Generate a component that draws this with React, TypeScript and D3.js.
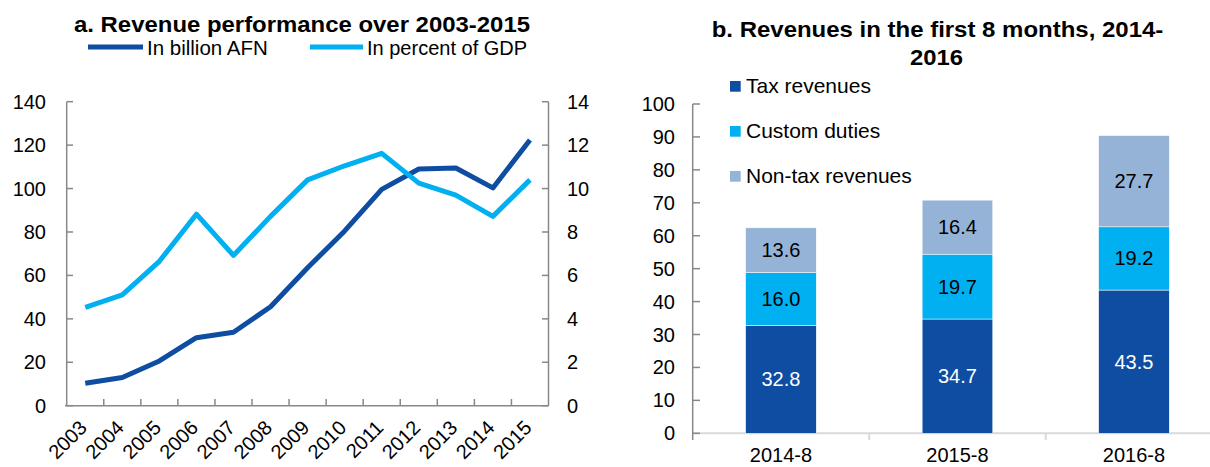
import React from "react";
import * as d3 from "d3";

const years = ["2003","2004","2005","2006","2007","2008","2009","2010","2011","2012","2013","2014","2015"];
const billionAFN = [10.3, 13.0, 20.6, 31.3, 33.8, 45.6, 63.5, 80.5, 99.6, 109.0, 109.5, 100.3, 122.4];
const pctGDP = [4.53, 5.1, 6.65, 8.82, 6.92, 8.72, 10.4, 11.05, 11.62, 10.25, 9.7, 8.72, 10.4];
const leftTicks = [0, 20, 40, 60, 80, 100, 120, 140];
const rightTicks = [0, 2, 4, 6, 8, 10, 12, 14];

const periods = ["2014-8", "2015-8", "2016-8"];
const taxRevenues = [32.8, 34.7, 43.5];
const customDuties = [16.0, 19.7, 19.2];
const nonTaxRevenues = [13.6, 16.4, 27.7];
const barTicks = [0, 10, 20, 30, 40, 50, 60, 70, 80, 90, 100];

const DARK = "#0E4DA1";
const LIGHT = "#00B0F0";
const PALE = "#95B3D7";
const FONT = "'Liberation Sans', Arial, sans-serif";

export default function App() {
  // Left chart
  const x1 = d3.scaleBand<string>().domain(years).range([66.7, 548.5]);
  const y1 = d3.scaleLinear().domain([0, 140]).range([405.7, 101.7]);
  const y1r = d3.scaleLinear().domain([0, 14]).range([405.7, 101.7]);
  const cx = (i: number) => (x1(years[i]) as number) + x1.bandwidth() / 2;
  const lineA = d3.line<number>().x((_, i) => cx(i)).y((d) => y1(d));
  const lineB = d3.line<number>().x((_, i) => cx(i)).y((d) => y1r(d));

  // Right chart
  const x2 = d3.scaleBand<string>().domain(periods).range([692.7, 1222.2]).paddingInner(0.6).paddingOuter(0.3);
  const y2 = d3.scaleLinear().domain([0, 100]).range([433.3, 104]);
  const series = [
    { name: "Tax revenues", values: taxRevenues, color: DARK, text: "#fff" },
    { name: "Custom duties", values: customDuties, color: LIGHT, text: "#000" },
    { name: "Non-tax revenues", values: nonTaxRevenues, color: PALE, text: "#000" },
  ];
  const stackData = periods.map((p, i) => ({ p, tax: taxRevenues[i], cus: customDuties[i], non: nonTaxRevenues[i] }));
  const stack = d3.stack<any>().keys(["tax", "cus", "non"])(stackData);
  const bandStep = 176.5;

  return (
    <svg width={1210} height={467} style={{ position: "absolute", left: 0, top: 0, background: "#fff" }} fontFamily={FONT}>
      <rect width={1210} height={467} fill="#fff" />
      {/* Left title */}
      <text x={74} y={32} fontSize={21.5} fontWeight="bold" textLength={456} lengthAdjust="spacingAndGlyphs">a. Revenue performance over 2003-2015</text>
      {/* Left legend */}
      <line x1={88} x2={143} y1={47} y2={47} stroke={DARK} strokeWidth={5} />
      <text x={147} y={55} fontSize={20.5}>In billion AFN</text>
      <line x1={310} x2={363} y1={47} y2={47} stroke={LIGHT} strokeWidth={5} />
      <text x={367} y={55} fontSize={20}>In percent of GDP</text>

      {/* Left axes */}
      <line x1={66.7} x2={66.7} y1={101.7} y2={405.7} stroke="#888" strokeWidth={1.5} />
      <line x1={548.5} x2={548.5} y1={101.7} y2={405.7} stroke="#888" strokeWidth={1.5} />
      <line x1={65} x2={548.5} y1={405.7} y2={405.7} stroke="#888" strokeWidth={1.5} />
      {leftTicks.map((t) => (
        <g key={"l" + t}>
          <line x1={66.7} x2={73} y1={y1(t)} y2={y1(t)} stroke="#888" strokeWidth={1.5} />
          <text x={46} y={y1(t)} dy="0.35em" textAnchor="end" fontSize={20}>{t}</text>
        </g>
      ))}
      {rightTicks.map((t) => (
        <g key={"r" + t}>
          <line x1={542} x2={548.5} y1={y1r(t)} y2={y1r(t)} stroke="#888" strokeWidth={1.5} />
          <text x={567} y={y1r(t)} dy="0.35em" textAnchor="start" fontSize={20}>{t}</text>
        </g>
      ))}
      {years.map((yr, i) => (
        <g key={yr}>
          {i > 0 && <line x1={x1(yr) as number} x2={x1(yr) as number} y1={405.7} y2={399} stroke="#888" strokeWidth={1.5} />}
          <text transform={`translate(${cx(i) - 7},${419}) rotate(-45)`} textAnchor="end" dy="0.7em" fontSize={20}>{yr}</text>
        </g>
      ))}
      <path d={lineA(billionAFN) as string} fill="none" stroke={DARK} strokeWidth={5} strokeLinejoin="round" />
      <path d={lineB(pctGDP) as string} fill="none" stroke={LIGHT} strokeWidth={5} strokeLinejoin="round" />

      {/* Right title */}
      <text x={711.7} y={37} fontSize={21.5} fontWeight="bold" textLength={451.6} lengthAdjust="spacingAndGlyphs">b. Revenues in the first 8 months, 2014-</text>
      <text x={910} y={65} fontSize={21.5} fontWeight="bold" textLength={53} lengthAdjust="spacingAndGlyphs">2016</text>

      {/* Right legend */}
      {series.map((s, i) => (
        <g key={s.name}>
          <rect x={730} y={81 + i * 45} width={10.7} height={10.7} fill={s.color} />
          <text x={746} y={93 + i * 45} fontSize={21}>{s.name}</text>
        </g>
      ))}

      {/* Right axes */}
      <line x1={692.7} x2={1210} y1={433.3} y2={433.3} stroke="#d9d9d9" strokeWidth={2} />
      {[1, 2].map((k) => (
        <line key={k} x1={692.7 + k * bandStep} x2={692.7 + k * bandStep} y1={433.3} y2={440} stroke="#d9d9d9" strokeWidth={2} />
      ))}
      <line x1={692.7} x2={692.7} y1={104} y2={440} stroke="#888" strokeWidth={1.5} />
      {barTicks.map((t) => (
        <g key={"b" + t}>
          <line x1={692.7} x2={700} y1={y2(t)} y2={y2(t)} stroke="#888" strokeWidth={1.5} />
          <text x={675} y={y2(t)} dy="0.35em" textAnchor="end" fontSize={20}>{t}</text>
        </g>
      ))}

      {/* Bars */}
      {stack.map((layer, li) => (
        <g key={layer.key}>
          {layer.map((d, i) => {
            const x = x2(periods[i]) as number;
            const w = x2.bandwidth();
            const yTop = y2(d[1]);
            const yBot = y2(d[0]);
            return (
              <g key={i}>
                <rect x={x} y={yTop} width={w} height={yBot - yTop} fill={series[li].color} stroke="#fff" strokeWidth={0.5} />
                <text x={x + w / 2} y={(yTop + yBot) / 2} dy="0.35em" textAnchor="middle" fontSize={20} fill={series[li].text}>
                  {series[li].values[i].toFixed(1)}
                </text>
              </g>
            );
          })}
        </g>
      ))}
      {periods.map((p) => (
        <text key={p} x={(x2(p) as number) + x2.bandwidth() / 2} y={462} textAnchor="middle" fontSize={20}>{p}</text>
      ))}
    </svg>
  );
}
